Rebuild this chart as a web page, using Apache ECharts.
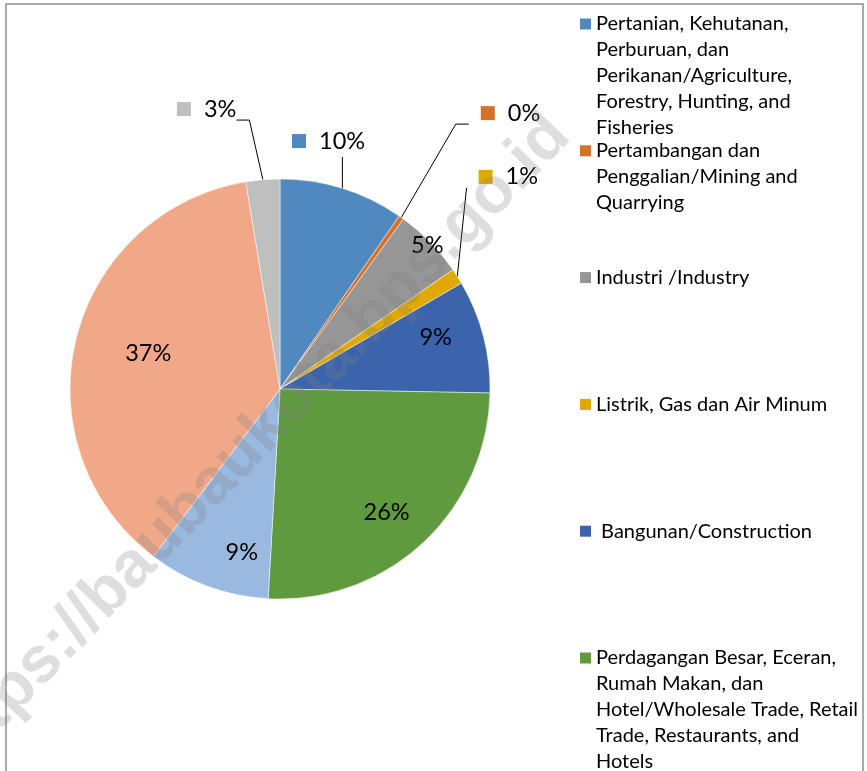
<!DOCTYPE html>
<html>
<head>
<meta charset="utf-8">
<script src="https://cdn.jsdelivr.net/npm/echarts@6/dist/echarts.min.js"></script>
<style>
    html, body { margin: 0; padding: 0; background: #fff; }
    #chart { width: 867px; height: 771px; }
</style>
</head>
<body>
<div id="chart"></div>
<script>
// 数据
const categories = [
    'Pertanian, Kehutanan,\nPerburuan, dan\nPerikanan/Agriculture,\nForestry, Hunting, and\nFisheries',
    'Pertambangan dan\nPenggalian/Mining and\nQuarrying',
    'Industri /Industry',
    'Listrik, Gas dan Air Minum',
    ' Bangunan/Construction',
    'Perdagangan Besar, Eceran,\nRumah Makan, dan\nHotel/Wholesale Trade, Retail\nTrade, Restaurants, and\nHotels',
    'Pengangkutan dan\nKomunikasi/Transport and\nCommunication',
    'Keuangan, Persewaan dan\nJasa Perusahaan/Financial,\nOwnership and Business\nServices',
    'Jasa-Jasa/Services'
];
const shares = [9.6, 0.4, 5.4, 1.2, 8.7, 25.6, 9.4, 37.1, 2.6];
const colors = ['#4f89c0', '#d5712b', '#969696', '#e0a900', '#3b64ad', '#5f9a3e', '#99b9e0', '#f0a889', '#bfbfbf'];

// 饼图几何
const cx = 280, cy = 389, R = 210;
// 标签位置: [相对扇区中线的角度偏移(度), 半径倍数]
const labelPlace = [[-6.2, 1.203], [4.6, 1.712], [0, 0.98], [-10.5, 1.484], [-3.6, 0.78],
                    [1.9, 0.775], [-7, 0.8], [1.3, 0.65], [-10, 1.378]];
const outside = [true, true, false, true, false, false, false, false, true];

const total = shares.reduce((a, b) => a + b, 0);
const midAngles = [];
let acc = 0;
shares.forEach(v => { midAngles.push((acc + v / 2) / total * 360); acc += v; });

function polar(deg, r) {
    const a = deg * Math.PI / 180;
    return [cx + r * Math.sin(a), cy - r * Math.cos(a)];
}

const FONT = 'Lato, "Open Sans", sans-serif';
const LH = 26;
const LABEL_SIZE = 23.5;

const pieData = categories.map((name, i) => ({
    name: name,
    value: shares[i],
    itemStyle: { color: colors[i] },
    label: outside[i] ? {
        formatter: p => '{sq|}{t|' + Math.round(p.percent) + '%}',
        rich: {
            sq: { width: 14, height: 14, backgroundColor: colors[i] },
            t: { fontSize: LABEL_SIZE, fontFamily: FONT, color: '#000', padding: [0, 0, 0, 13] }
        }
    } : {
        formatter: p => Math.round(p.percent) + '%'
    },
    labelLine: { show: outside[i] }
}));

// 图例: 每项一个 legend, 方块对齐第一行
const legendY0 = 24, legendStep = 126.8;
const legends = categories.map((name, i) => {
    const n = name.split('\n').length;
    const h = n * LH;
    const y = legendY0 + i * legendStep;
    // 方块在顶部, 用零长度子路径撑开高度
    const icon = 'path://M0,0L0,0M0,' + (LH / 2 - 5.5) + 'h11v11h-11zM0,' + h + 'L0,' + h;
    return {
        data: [{ name: name, icon: icon }],
        left: 580,
        top: y - LH / 2,
        orient: 'vertical',
        padding: 0,
        itemWidth: 11,
        itemHeight: h,
        selectedMode: false,
        itemStyle: { borderWidth: 0 },
        textStyle: {
            fontFamily: FONT,
            fontSize: 20,
            color: '#000',
            lineHeight: LH
        }
    };
});

const chart = echarts.init(document.getElementById('chart'));
chart.setOption({
    animation: false,
    backgroundColor: '#fff',
    legend: legends,
    series: [{
        type: 'pie',
        center: [cx, cy],
        radius: R,
        startAngle: 90,
        clockwise: true,
        avoidLabelOverlap: false,
        data: pieData,
        itemStyle: { borderColor: 'rgba(255,255,255,0.6)', borderWidth: 0.8 },
        label: {
            show: true,
            position: 'outside',
            fontFamily: FONT,
            fontSize: LABEL_SIZE,
            color: '#000'
        },
        labelLine: { lineStyle: { color: '#000', width: 1 }, smooth: false },
        labelLayout: function (params) {
            const i = params.dataIndex;
            const p = polar(midAngles[i] + labelPlace[i][0], labelPlace[i][1] * R);
            if (!outside[i]) {
                return { x: p[0], y: p[1], align: 'center', verticalAlign: 'middle' };
            }
            const w = params.labelRect.width;
            const left = p[0] - w / 2, right = p[0] + w / 2;
            const edge = polar(midAngles[i], R);
            let pts;
            if (edge[0] >= left && edge[0] <= right) {
                pts = [edge, [edge[0], p[1] + 16], [edge[0], p[1] + 16]];
            } else {
                const ey = p[1] + 11;
                const ex = edge[0] < left ? left - 12 : right;
                const dir = edge[0] < left ? -1 : 1;
                const bend = Math.abs(ex - edge[0]) > 15 ? [ex + dir * 13, ey] : [ex, ey];
                pts = [edge, bend, [ex, ey]];
            }
            return { x: p[0], y: p[1], align: 'center', verticalAlign: 'middle', labelLinePoints: pts };
        }
    }],
    graphic: [
        {
            type: 'rect',
            shape: { x: 6, y: 4, width: 857, height: 820 },
            style: { fill: 'none', stroke: '#8c8c8c', lineWidth: 1.5 },
            silent: true
        },
        {
            type: 'text',
            x: 251, y: 445,
            rotation: 46 * Math.PI / 180,
            z: 100,
            silent: true,
            style: {
                text: 'https://baubaukota.bps.go.id',
                font: 'bold 65px "Liberation Sans", Arial, sans-serif',
                fill: 'rgba(128,128,128,0.26)',
                align: 'center',
                verticalAlign: 'middle'
            }
        }
    ]
});
</script>
</body>
</html>
